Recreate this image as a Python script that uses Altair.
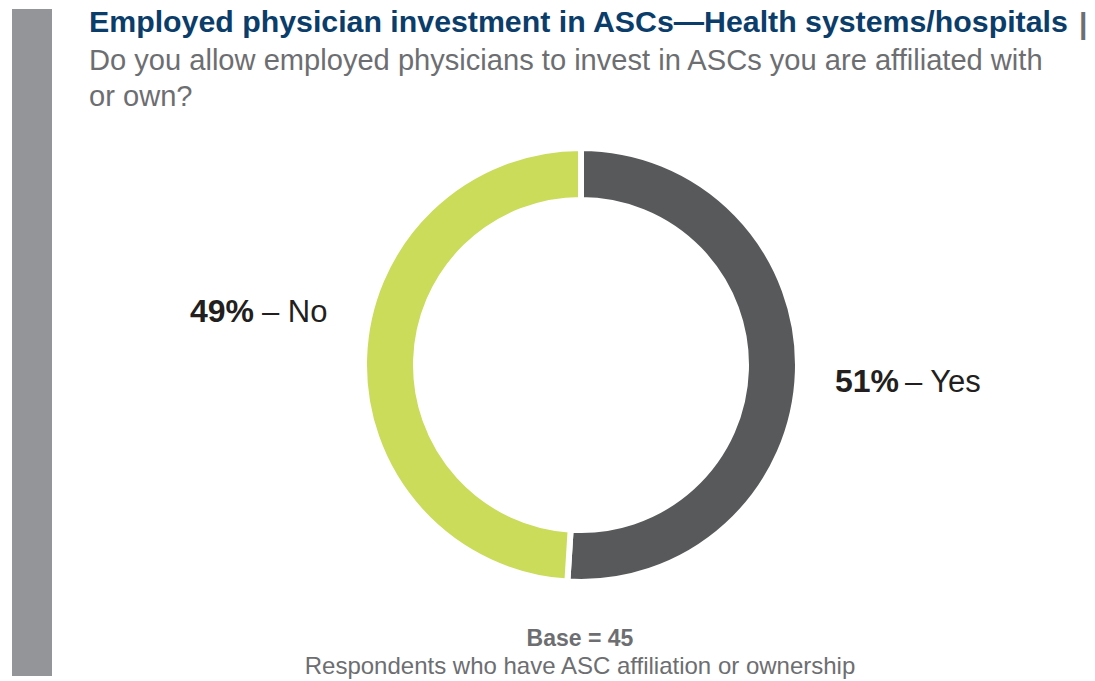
import altair as alt
import pandas as pd

# Data
categories = ["Yes", "No"]
shares = [51, 49]
pct_labels = ["51%", "49%"]
cat_labels = ["– Yes", "– No"]
colors = ["#58595b", "#cbdb5a"]

title_text = "Employed physician investment in ASCs—Health systems/hospitals"
subtitle_lines = ["Do you allow employed physicians to invest in ASCs you are affiliated with", "or own?"]
base_text = "Base = 45"
note_text = "Respondents who have ASC affiliation or ownership"

W, H = 1095, 681
CX, CY = 581, 365

donut_df = pd.DataFrame({"category": categories, "share": shares, "order": [0, 1]})

donut = alt.Chart(donut_df).mark_arc(
    outerRadius=217, innerRadius=165, stroke="white", strokeWidth=6
).encode(
    theta=alt.Theta("share:Q", stack=True),
    order=alt.Order("order:Q"),
    color=alt.Color("category:N", scale=alt.Scale(domain=categories, range=colors), legend=None),
    x=alt.value(CX),
    y=alt.value(CY),
)

lab_df = pd.DataFrame({
    "pct": pct_labels,
    "cat": cat_labels,
    "px": [835, 190],
    "cx": [905, 262],
    "py": [392, 322],
})

pct_text = alt.Chart(lab_df).mark_text(
    align="left", baseline="alphabetic", fontSize=32, fontWeight="bold",
    font="Liberation Sans", color="#231f20"
).encode(text="pct:N", x=alt.X("px:Q", scale=None), y=alt.Y("py:Q", scale=None))

cat_text = alt.Chart(lab_df).mark_text(
    align="left", baseline="alphabetic", fontSize=31, fontWeight="normal",
    font="Liberation Sans", color="#231f20"
).encode(text="cat:N", x=alt.X("cx:Q", scale=None), y=alt.Y("py:Q", scale=None))

bar = alt.Chart(pd.DataFrame({"a": [0]})).mark_rect(color="#939598").encode(
    x=alt.value(12), x2=alt.value(52), y=alt.value(9), y2=alt.value(676)
)

title = alt.Chart(pd.DataFrame({"t": [title_text]})).mark_text(
    align="left", baseline="alphabetic", fontSize=30.3, fontWeight="bold",
    font="Liberation Sans", color="#0b3d6b"
).encode(text="t:N", x=alt.value(89), y=alt.value(32))

bar_sep = alt.Chart(pd.DataFrame({"t": ["|"]})).mark_text(
    align="left", baseline="alphabetic", fontSize=30, fontWeight="bold",
    font="Liberation Sans", color="#6d6e71"
).encode(text="t:N", x=alt.value(1079), y=alt.value(34))

sub_df = pd.DataFrame({"t": subtitle_lines, "yy": [70, 106]})
subtitle = alt.Chart(sub_df).mark_text(
    align="left", baseline="alphabetic", fontSize=29.1, fontWeight=300,
    font="Liberation Sans", color="#6d6e71"
).encode(text="t:N", x=alt.value(89), y=alt.Y("yy:Q", scale=None))

base = alt.Chart(pd.DataFrame({"t": [base_text]})).mark_text(
    align="center", baseline="alphabetic", fontSize=23, fontWeight="bold",
    font="Liberation Sans", color="#6d6e71"
).encode(text="t:N", x=alt.value(580), y=alt.value(646))

note = alt.Chart(pd.DataFrame({"t": [note_text]})).mark_text(
    align="center", baseline="alphabetic", fontSize=24,
    font="Liberation Sans", color="#6d6e71"
).encode(text="t:N", x=alt.value(580), y=alt.value(674))

chart = alt.layer(
    bar, donut, pct_text, cat_text, title, bar_sep, subtitle, base, note
).properties(
    width=W, height=H, padding=0, autosize=alt.AutoSizeParams(type="none"),
    background="white"
).configure_view(stroke=None)

chart.save("out.html", embed_options={"renderer": "svg", "actions": False})
